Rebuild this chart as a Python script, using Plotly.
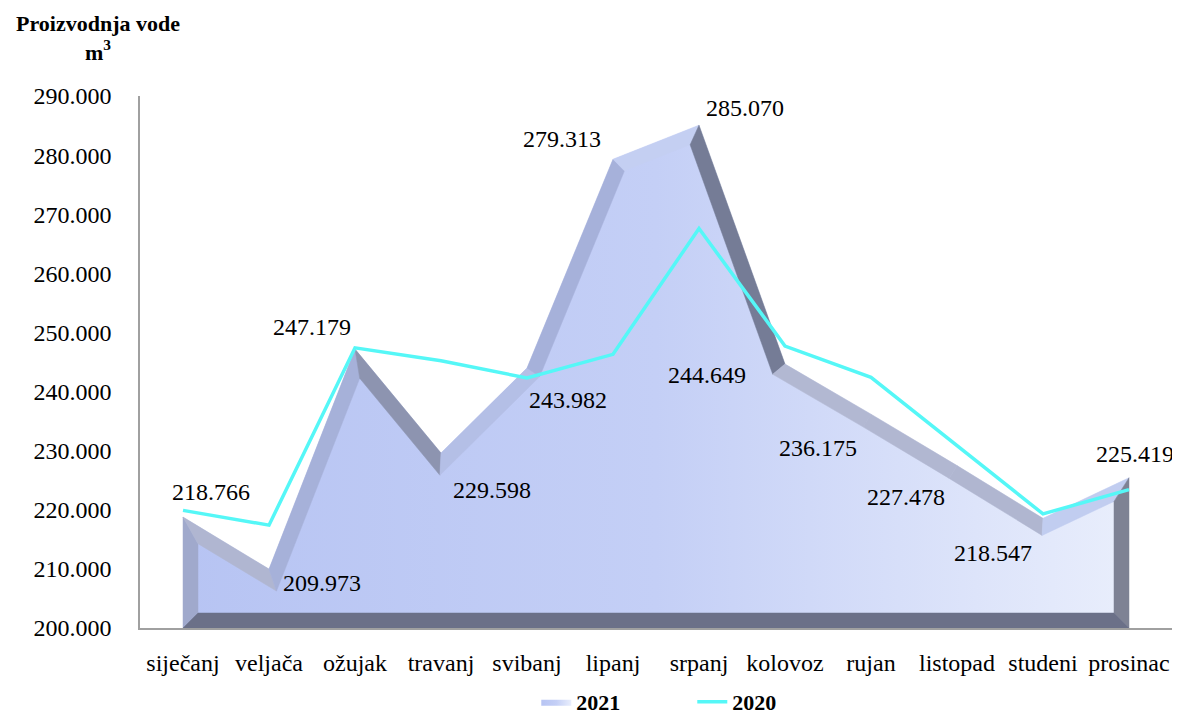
import math
import plotly.graph_objects as go

# ---------------- data ----------------
months = ["siječanj", "veljača", "ožujak", "travanj", "svibanj", "lipanj",
          "srpanj", "kolovoz", "rujan", "listopad", "studeni", "prosinac"]
prod_2021 = [218766, 209973, 247179, 229598, 243982, 279313,
             285070, 244649, 236175, 227478, 218547, 225419]
prod_2020 = [219900, 217400, 247400, 245200, 242300, 246300,
             267600, 247700, 242400, 230900, 219300, 223400]
y_ticks = [200000, 210000, 220000, 230000, 240000, 250000,
           260000, 270000, 280000, 290000]

# ---------------- style ----------------
FONT = "Times New Roman, Liberation Serif, DejaVu Serif, serif"
Y_MIN, Y_MAX = 200000, 290000
PLOT_W, PLOT_H = 1032, 532          # plot area in px
BEVEL = 15                           # bevel thickness in px
# label offsets (px) for the 2021 value labels
label_dx = [28, 53, -43, 51, 41, -51, 46, -78, -53, -51, -50, 6]
label_dy = [25, -14, 22, -37, -32, 20, 17, -11, -34, -31, -35, 24]
# bevel shading by outward-normal angle (degrees)
shade_stops = [(-90, (107, 112, 136)), (0, (126, 130, 148)), (25, (115, 123, 151)),
               (60, (179, 185, 211)), (100, (205, 216, 248)), (150, (169, 181, 223)),
               (180, (160, 169, 204)), (270, (107, 112, 136))]

n = len(months)
sx = PLOT_W / n                      # px per category
sy = PLOT_H / (Y_MAX - Y_MIN)        # px per value unit


def to_px(x, y):
    return x * sx, (y - Y_MIN) * sy


def to_data(X, Y):
    return X / sx, Y / sy + Y_MIN


# outer outline (clockwise in y-up space)
outer = [(0, Y_MIN)] + [(i, v) for i, v in enumerate(prod_2021)] + [(n - 1, Y_MIN)]
P = [to_px(x, y) for x, y in outer]
m = len(P)


def inward_normal(a, b):
    dx, dy = b[0] - a[0], b[1] - a[1]
    L = math.hypot(dx, dy)
    return dy / L, -dx / L


inner = []
for k in range(m):
    p_prev, p, p_next = P[k - 1], P[k], P[(k + 1) % m]
    na = inward_normal(p_prev, p)
    nb = inward_normal(p, p_next)
    mx, my = na[0] + nb[0], na[1] + nb[1]
    L = math.hypot(mx, my)
    mx, my = mx / L, my / L
    d = BEVEL / (mx * na[0] + my * na[1])
    inner.append((p[0] + mx * d, p[1] + my * d))


def face_color(a, b):
    nx, ny = inward_normal(a, b)
    phi = math.degrees(math.atan2(-ny, -nx))
    if phi < -90:
        phi += 360
    for (p0, c0), (p1, c1) in zip(shade_stops[:-1], shade_stops[1:]):
        if p0 <= phi <= p1:
            t = (phi - p0) / (p1 - p0)
            r, g, bb = (int(c0[j] + (c1[j] - c0[j]) * t) for j in range(3))
            return f"rgb({r},{g},{bb})"
    return "rgb(107,112,136)"


fig = go.Figure()

# main face (gradient)
fig.add_trace(go.Scatter(
    x=[p[0] for p in outer] + [outer[0][0]],
    y=[p[1] for p in outer] + [outer[0][1]],
    mode="lines", fill="toself",
    fillgradient=dict(type="horizontal",
                      colorscale=[[0, "#b7c4f3"], [0.5, "#c4cff6"], [1, "#e9eefc"]]),
    line=dict(width=0, color="#b7c4f3"),
    name="<b>2021</b>", hoverinfo="skip", showlegend=True,
))

# bevel faces
for k in range(m):
    a, b = P[k], P[(k + 1) % m]
    ia, ib = inner[k], inner[(k + 1) % m]
    quad = [a, b, ib, ia, a]
    xs, ys = zip(*[to_data(*q) for q in quad])
    col = face_color(a, b)
    fig.add_trace(go.Scatter(
        x=list(xs), y=list(ys), mode="lines", fill="toself",
        fillcolor=col, line=dict(width=0.5, color=col),
        hoverinfo="skip", showlegend=False,
    ))

# 2020 line
fig.add_trace(go.Scatter(
    x=list(range(n)), y=prod_2020, mode="lines",
    line=dict(color="#55f7f7", width=3.5),
    name="<b>2020</b>", hoverinfo="skip",
))

# value labels
for i, v in enumerate(prod_2021):
    fig.add_annotation(
        x=i, y=v, text=f"{v:,}".replace(",", "."), showarrow=False,
        xshift=label_dx[i], yshift=label_dy[i],
        font=dict(family=FONT, size=24, color="black"),
    )

# axis title
fig.add_annotation(
    xref="paper", yref="paper", x=-0.041, y=1.109,
    text="<b>Proizvodnja vode</b><br><b>m<sup>3</sup></b>",
    showarrow=False, xanchor="center", yanchor="middle",
    font=dict(family=FONT, size=22, color="black"),
)

fig.update_layout(
    width=1172, height=707,
    margin=dict(l=132, r=8, t=88, b=87, autoexpand=False),
    paper_bgcolor="white", plot_bgcolor="white",
    separators=",.",
    font=dict(family=FONT, size=22, color="black"),
    showlegend=True,
    legend=dict(orientation="h", x=0.384, xanchor="left", y=-0.139, yanchor="middle",
                font=dict(family=FONT, size=22, color="black"),
                entrywidth=111, entrywidthmode="pixels", tracegroupgap=0),
    xaxis=dict(range=[-0.5, n - 0.5], tickvals=list(range(n)), ticktext=months,
               showgrid=False, zeroline=False, showline=True, linecolor="#a0a0a0",
               linewidth=1.5, ticks="", ticklabelstandoff=12,
               tickfont=dict(family=FONT, size=24)),
    yaxis=dict(range=[Y_MIN, Y_MAX], tickvals=y_ticks, tickformat=",d",
               showgrid=False, zeroline=False, showline=True, linecolor="#a0a0a0",
               linewidth=1.5, ticks="", ticklabelstandoff=22,
               tickfont=dict(family=FONT, size=24)),
)

fig.write_html("out.html")
